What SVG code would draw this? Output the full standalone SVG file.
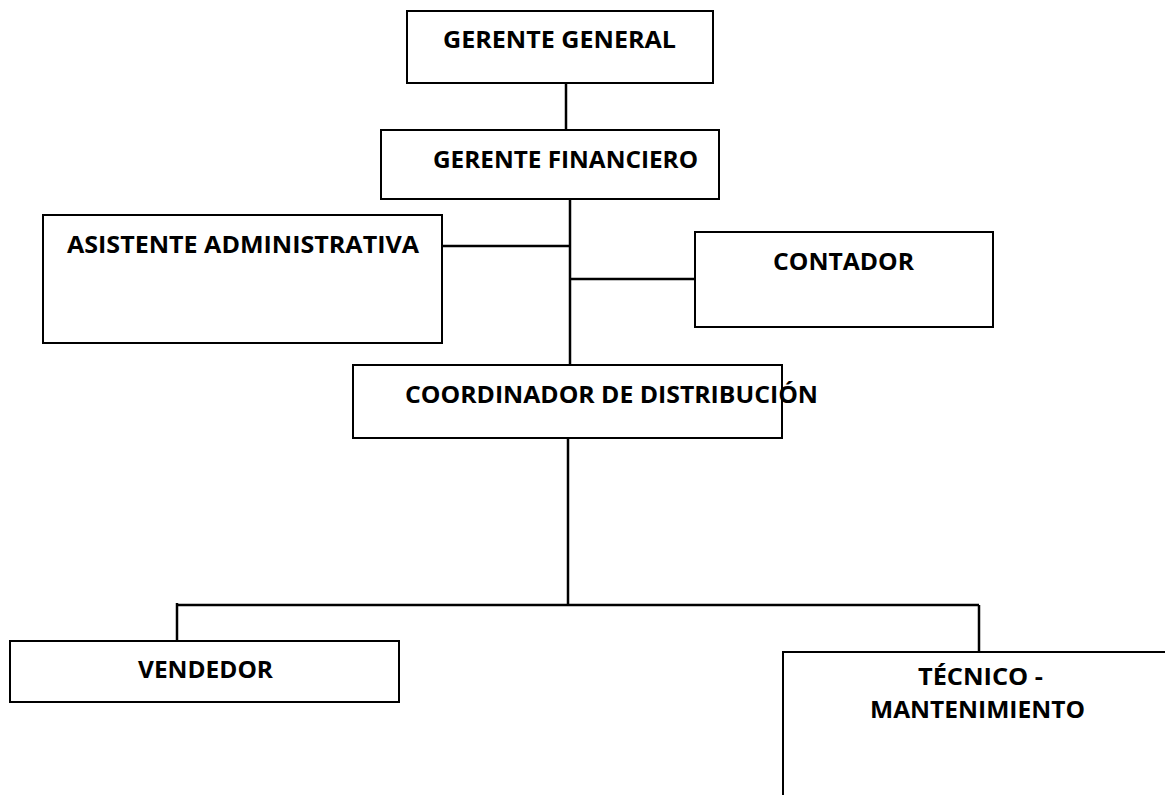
<svg xmlns="http://www.w3.org/2000/svg" width="1165" height="795" viewBox="0 0 1165 795">
<style>
.box{fill:#fff;stroke:#000;stroke-width:2}
.ln{stroke:#000;stroke-width:2.5;fill:none}
text{font-family:"Open Sans","Noto Sans","Liberation Sans",sans-serif;font-weight:bold;font-size:24px;fill:#000}
</style>
<rect width="1165" height="795" fill="#fff"/>
<g id="connectors">
<line class="ln" x1="566" y1="83" x2="566" y2="130"/>
<line class="ln" x1="570" y1="199" x2="570" y2="365"/>
<line class="ln" x1="442" y1="246" x2="570" y2="246"/>
<line class="ln" x1="570" y1="279" x2="695" y2="279"/>
<line class="ln" x1="568" y1="438" x2="568" y2="605"/>
<line class="ln" x1="177" y1="605" x2="979" y2="605"/>
<line class="ln" x1="177" y1="603" x2="177" y2="647"/>
<line class="ln" x1="979" y1="605" x2="979" y2="652"/>
</g>
<g id="gerente-general">
<rect class="box" x="407" y="11" width="306" height="72"/>
<text x="443" y="48" textLength="233" lengthAdjust="spacingAndGlyphs">GERENTE GENERAL</text>
</g>
<g id="gerente-financiero">
<rect class="box" x="381" y="130" width="338" height="69"/>
<text x="433" y="168" textLength="265" lengthAdjust="spacingAndGlyphs">GERENTE FINANCIERO</text>
</g>
<g id="asistente">
<rect class="box" x="43" y="215" width="399" height="128"/>
<text x="67" y="253" textLength="352" lengthAdjust="spacingAndGlyphs">ASISTENTE ADMINISTRATIVA</text>
</g>
<g id="contador">
<rect class="box" x="695" y="232" width="298" height="95"/>
<text x="773" y="270" textLength="141" lengthAdjust="spacingAndGlyphs">CONTADOR</text>
</g>
<g id="coordinador">
<rect class="box" x="353" y="365" width="429" height="73"/>
<text x="405" y="403" textLength="413" lengthAdjust="spacingAndGlyphs">COORDINADOR DE DISTRIBUCIÓN</text>
</g>
<g id="vendedor">
<rect class="box" x="10" y="641" width="389" height="61"/>
<text x="138" y="678" textLength="135" lengthAdjust="spacingAndGlyphs">VENDEDOR</text>
</g>
<g id="tecnico">
<rect class="box" x="783" y="652" width="420" height="200"/>
<text x="918" y="685" textLength="125" lengthAdjust="spacingAndGlyphs">TÉCNICO  -</text>
<text x="870" y="718" textLength="215" lengthAdjust="spacingAndGlyphs">MANTENIMIENTO</text>
</g>
</svg>
